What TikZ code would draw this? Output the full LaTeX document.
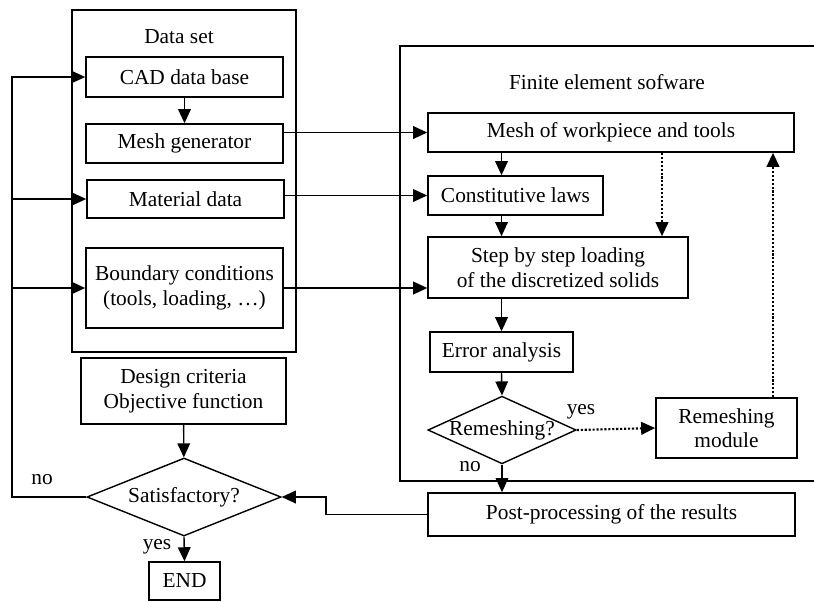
\documentclass[tikz,border=0pt]{standalone}
\usepackage{fontspec}
\setmainfont{Liberation Serif}
\usetikzlibrary{arrows.meta,positioning,shapes.geometric}

\begin{document}
\begin{tikzpicture}[x=.025cm,y=-.025cm,font=\fontsize{15.2}{17.5}\selectfont,line width=1pt,
  box/.style={draw,rectangle,align=center,inner sep=2pt},
  decision/.style={draw,diamond,align=center,inner sep=0pt},
  flow/.style={-{Triangle[length=10pt,width=9pt]}},
  dotflow/.style={flow,line width=1.5pt,dash pattern=on 1.5pt off 1.3pt}]
\useasboundingbox (0,0) rectangle (814,601);
% frames
\draw (72,10) rectangle (296,352);
\draw (400,46) rectangle (840,481);
\node (dslab) at (179,37) {Data set};
\node (felab) at (607,82) {Finite element sofware};
% data set
\node[box,minimum width=4.93cm,minimum height=1cm] (cad) at (184.5,77) {CAD data base};
\node[box,minimum width=4.93cm,minimum height=.98cm] (meshgen) at (184.5,143.5) {Mesh generator};
\node[box,minimum width=4.93cm,minimum height=.95cm] (matdata) at (185.5,199) {Material data};
\node[box,minimum width=4.93cm,minimum height=2cm] (boundary) at (184.5,288) {Boundary conditions\\(tools, loading, \ldots)};
\node[box,minimum width=5.13cm,minimum height=1.65cm] (design) at (183.5,391) {Design criteria\\Objective function};
\node[decision,aspect=2.49,minimum width=4.85cm,minimum height=1.95cm] (satisf) at (184,497) {Satisfactory?};
\node[box,minimum width=1.78cm,minimum height=.95cm] (endbox) at (184.5,581) {END};
% finite element software
\node[box,minimum width=9.15cm,minimum height=.98cm] (meshwp) at (611,132.5) {Mesh of workpiece and tools};
\node[box,minimum width=4.38cm,minimum height=.98cm] (constit) at (515.5,195.5) {Constitutive laws};
\node[box,minimum width=6.5cm,minimum height=1.53cm] (stepload) at (558,267.5) {Step by step loading\\of the discretized solids};
\node[box,minimum width=3.58cm,minimum height=1cm] (error) at (501.5,352) {Error analysis};
\node[decision,aspect=2.19,minimum width=3.68cm,minimum height=1.68cm] (remesh) at (502,430) {Remeshing?};
\node[box,minimum width=3.53cm,minimum height=1.5cm] (remod) at (726.5,428) {Remeshing\\module};
\node[box,minimum width=9.18cm,minimum height=1.08cm] (post) at (611.5,514.5) {Post-processing of the results};
% labels
\node (nolab) at (42,480) {no};
\node (yeslab) at (157,547) {yes};
\node (yesrm) at (581,412) {yes};
\node (norm) at (470,467) {no};
% connectors
\coordinate (fbtop) at (12,77);
\coordinate (d1) at (662,0);
\coordinate (d2) at (773,0);
\draw[flow] (cad) -- (meshgen);
\draw[flow] (design) -- (satisf);
\draw[flow] (satisf.south) -- (endbox.north);
\draw[flow] (satisf.west) -| (fbtop) -- (cad.west);
\draw[flow] (fbtop |- matdata) -- (matdata.west);
\draw[flow] (fbtop |- boundary) -- (boundary.west);
\draw[flow] (meshgen.east |- meshwp) -- (meshwp.west);
\draw[flow] (matdata.east |- constit) -- (constit.west);
\draw[flow] (boundary.east) -- (boundary.east -| stepload.west);
\draw[flow] (meshwp.south -| error) -- (constit.north -| error);
\draw[flow] (constit.south -| error) -- (stepload.north -| error);
\draw[flow] (stepload.south -| error) -- (error.north);
\draw[flow] (error.south) -- (remesh.north);
\draw[flow] (remesh.south) -- (remesh.south |- post.north);
\draw[flow] (post.west) -- ++(-101,0) |- (satisf.east);
\draw[dotflow] (remesh.east) -- (remod.west);
\draw[dotflow] (meshwp.south -| d1) -- (stepload.north -| d1);
\draw[dotflow] (remod.north -| d2) -- (meshwp.south -| d2);
\end{tikzpicture}
\end{document}
